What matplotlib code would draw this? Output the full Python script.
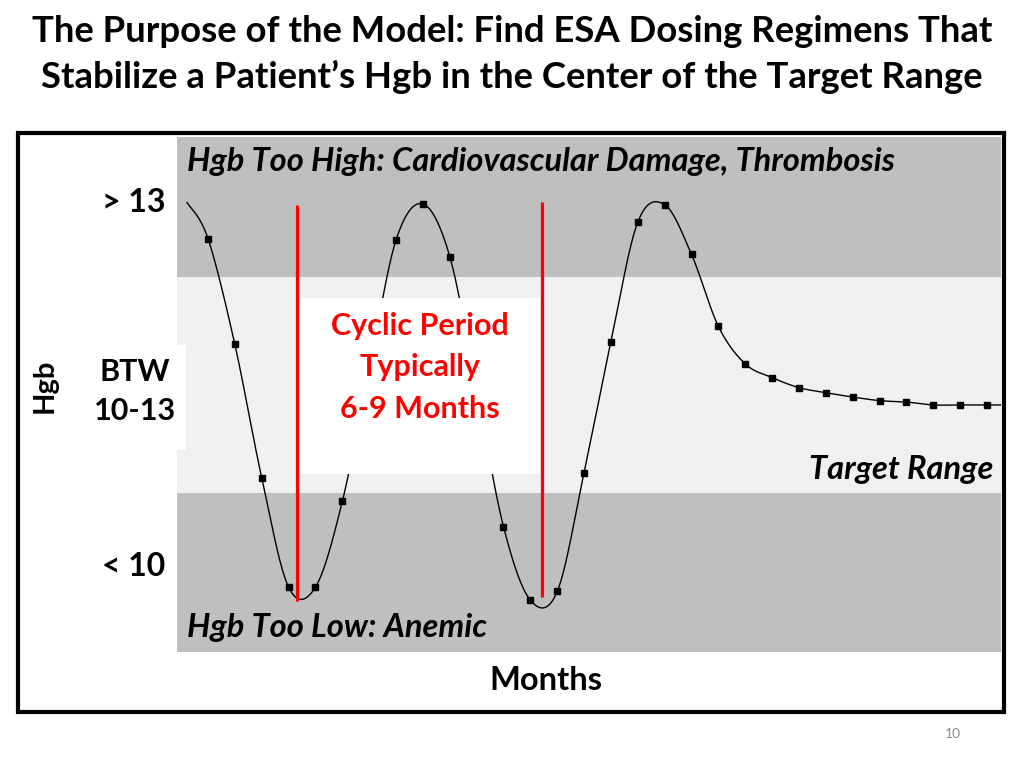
import numpy as np
import matplotlib.pyplot as plt
from matplotlib.patches import Rectangle

plt.rcParams['font.family'] = ['Lato', 'DejaVu Sans']

# Hgb readings, one per month (marked points)
months = np.arange(1, 31)
hgb = [13.53, 12.06, 10.21, 8.69, 8.69, 9.88, 11.71, 13.51, 14.01, 13.28,
       11.43, 9.53, 8.51, 8.63, 10.28, 12.10, 13.76, 14.00, 13.31, 12.31,
       11.79, 11.60, 11.46, 11.39, 11.33, 11.28, 11.26, 11.22, 11.22, 11.22]
# unmarked ends of the curve
start_month, start_hgb = 0.22, 14.03
end_month, end_hgb = 30.52, 11.22

# cyclic period markers (red lines)
period_x = [4.31, 13.43]
period_top = [13.99, 14.04]
period_bottom = [8.50, 8.56]

low_limit, high_limit = 10, 13
y_min, y_max = 7.79, 14.94
x_min, x_max = -0.154, 30.52


def smooth(x, y, n=25):
    # bezier smoothing like a spreadsheet "smoothed line"
    x = np.asarray(x, float)
    y = np.asarray(y, float)
    px = np.concatenate([[x[0]], x, [x[-1]]])
    py = np.concatenate([[y[0]], y, [y[-1]]])
    t = np.linspace(0, 1, n)[:, None]
    xs, ys = [], []
    for i in range(1, len(px) - 2):
        p0 = np.array([px[i - 1], py[i - 1]])
        p1 = np.array([px[i], py[i]])
        p2 = np.array([px[i + 1], py[i + 1]])
        p3 = np.array([px[i + 2], py[i + 2]])
        c1 = p1 + (p2 - p0) / 6
        c2 = p2 - (p3 - p1) / 6
        b = ((1 - t) ** 3) * p1 + 3 * ((1 - t) ** 2) * t * c1 + 3 * (1 - t) * t ** 2 * c2 + t ** 3 * p2
        xs.append(b[:, 0])
        ys.append(b[:, 1])
    return np.concatenate(xs), np.concatenate(ys)


W, H = 1024, 768


def fx(x):
    return x / W


def fy(y):
    return 1 - y / H


fig = plt.figure(figsize=(10.24, 7.68), dpi=100)
ax = fig.add_axes([fx(177), fy(652), (1001 - 177) / W, (652 - 137) / H])
ax.set_xlim(x_min, x_max)
ax.set_ylim(y_min, y_max)
ax.axis('off')

ax.axhspan(high_limit, y_max, color='#bfbfbf', lw=0, zorder=0)
ax.axhspan(low_limit, high_limit, color='#f0f0f0', lw=0, zorder=0)
ax.axhspan(y_min, low_limit, color='#bfbfbf', lw=0, zorder=0)

cx, cy = smooth([start_month] + list(months) + [end_month], [start_hgb] + hgb + [end_hgb])
ax.plot(cx, cy, color='black', lw=1.0, zorder=2)
ax.plot(months, hgb, 's', color='black', ms=5, zorder=3)

# white label box for cyclic period
ax.add_patch(Rectangle((4.43, 10.26), 13.36 - 4.43, 12.71 - 10.26,
                       facecolor='white', edgecolor='none', zorder=4))
ax.vlines(period_x, period_bottom, period_top, colors='#ff0000', lw=2.3, zorder=5)

red = dict(color='#ff0000', fontsize=22, fontweight='bold', ha='center', va='center', zorder=6)
ax.text(8.9, 12.31, 'Cyclic Period', **red)
ax.text(8.9, 11.74, 'Typically', **red)
ax.text(8.9, 11.17, '6-9 Months', **red)

# white patch behind BTW label
ax.add_patch(Rectangle((0, 0.392), 0.011, 0.204, transform=ax.transAxes,
                       facecolor='white', edgecolor='none', zorder=1, clip_on=False))

# frame around the chart
fig.add_artist(Rectangle((fx(18), fy(712)), (1004 - 18) / W, (712 - 133) / H,
                         fill=False, lw=3, ec='black', transform=fig.transFigure))

fig.text(0.5, fy(32), 'The Purpose of the Model: Find ESA Dosing Regimens That',
         fontsize=26.3, fontweight='bold', ha='center', va='center')
fig.text(0.5, fy(77), 'Stabilize a Patient\u2019s Hgb in the Center of the Target Range',
         fontsize=26.3, fontweight='bold', ha='center', va='center')

band = dict(fontsize=23.5, fontweight='bold', style='italic', va='center')
fig.text(fx(187), fy(162), 'Hgb Too High: Cardiovascular Damage, Thrombosis', ha='left', **band)
fig.text(fx(187), fy(628), 'Hgb Too Low: Anemic', ha='left', **band)
fig.text(fx(993), fy(470), 'Target Range', ha='right', **band)
fig.text(fx(546), fy(681), 'Months', fontsize=23.5, fontweight='bold', ha='center', va='center')

fig.text(fx(165), fy(202), '> 13', fontsize=23, fontweight='bold', ha='right', va='center')
fig.text(fx(165), fy(567), '< 10', fontsize=23, fontweight='bold', ha='right', va='center')
fig.text(fx(135), fy(372), 'BTW', fontsize=22, fontweight='bold', ha='center', va='center')
fig.text(fx(135), fy(411), '10-13', fontsize=22, fontweight='bold', ha='center', va='center')
fig.text(fx(45), fy(386), 'Hgb', fontsize=21, fontweight='bold', rotation=90,
         ha='center', va='center')

fig.text(fx(953), fy(734), '10', fontsize=10, color='#8c8c8c', ha='center', va='center')

fig.savefig('out.png', dpi=100)
